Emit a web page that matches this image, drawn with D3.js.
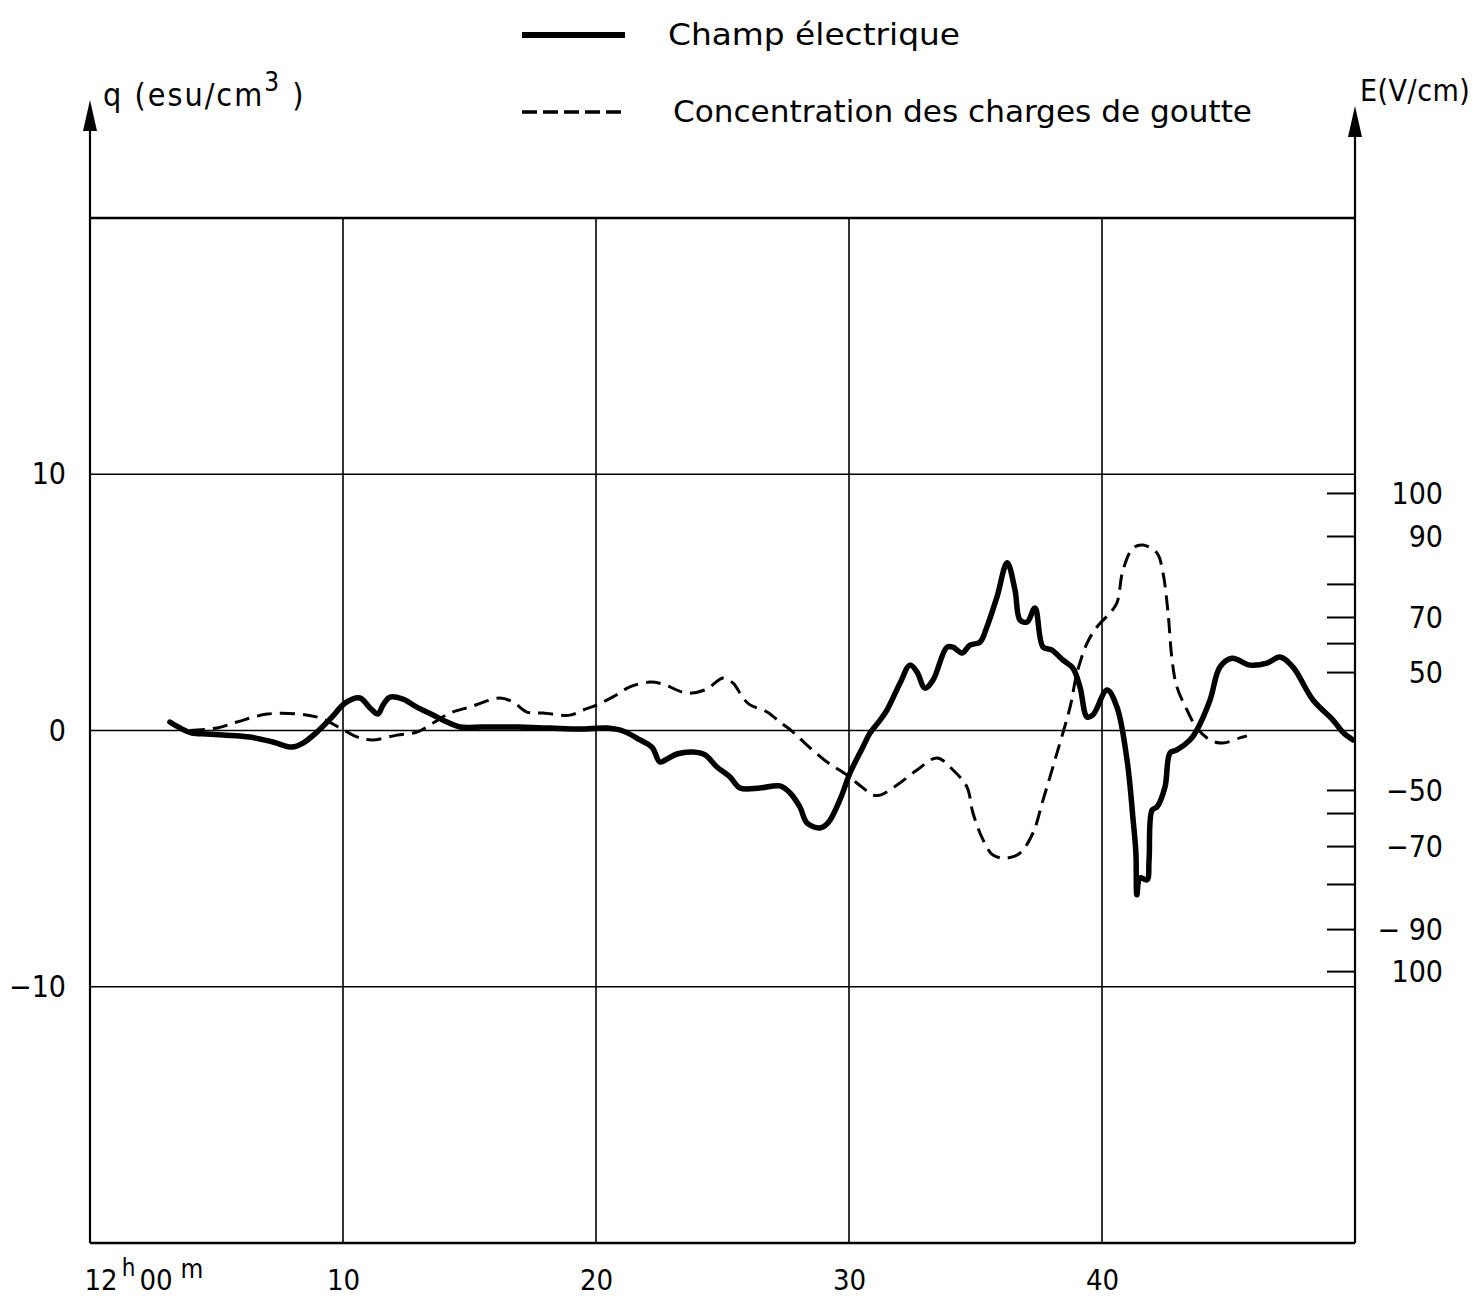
<!DOCTYPE html>
<html><head><meta charset="utf-8">
<script src="https://cdn.jsdelivr.net/npm/d3@7"></script>
<style>
body{margin:0;background:#fff;overflow:hidden}
svg{display:block;background:#fff}
text{font-family:"DejaVu Sans Condensed","DejaVu Sans",sans-serif;font-stretch:condensed;fill:#000}
</style>
</head><body>
<svg id="chart" width="1472" height="1298"></svg>
<script>
// ---- data ----
// Champ électrique, E in V/cm, versus minutes after 12h00
const fieldTime = [3.16,3.56,4.03,4.62,5.26,6.32,7.23,7.98,8.42,8.97,9.57,10.08,10.67,11.07,11.38,11.58,11.86,12.37,12.92,13.56,14.11,14.62,15.53,16.88,18.18,19.37,20.43,21.07,21.74,22.21,22.53,22.81,23.20,23.83,24.31,24.78,25.30,25.69,26.48,27.27,27.67,28.06,28.34,28.85,29.17,29.64,30.04,30.55,30.83,31.23,31.50,32.02,32.41,32.69,33.00,33.32,33.87,34.11,34.47,34.78,35.18,35.45,35.85,36.25,36.56,36.76,37.04,37.35,37.67,38.02,38.46,38.85,39.13,39.41,39.64,40.20,40.59,40.99,41.23,41.34,41.38,41.50,41.78,41.86,41.98,42.17,42.49,42.69,42.96,43.48,43.75,44.27,44.66,45.14,45.85,46.52,47.04,47.55,48.34,49.13,49.53,49.92];
const fieldValues = [7.6,2.5,-1.7,-2.5,-3.4,-5.1,-9.3,-13.6,-10.2,-0.9,11.9,23.7,28.0,19.5,14.4,22.0,28.8,27.1,20.3,13.6,7.6,3.4,3.4,3.4,2.5,1.7,2.5,0,-7.6,-13.6,-26.3,-23.7,-19.5,-17.8,-20.3,-30.5,-39.0,-48.3,-48.3,-46.6,-51.3,-57.4,-63.0,-64.5,-63.0,-54.3,-35.6,-13.6,-1.7,9.3,17.8,40.7,52.4,50.0,36.4,43.2,58.6,58.6,56.6,59.3,60.4,66.2,76.1,84.4,78.2,68.8,68.1,72.7,58.6,57.6,54.1,51.4,37.3,11.9,13.6,34.7,20.3,-24.6,-62.1,-71.8,-82.4,-78.4,-78.9,-73.7,-58.7,-57.4,-47.5,-18.6,-16.1,-7.6,0.8,26.3,51.7,54.8,52.4,53.1,55.2,51.7,26.3,9.3,-1.3,-7.6];

// Concentration des charges de goutte, q in esu/cm3
const chargeTime = [3.95,5.02,5.81,7.00,8.30,9.09,9.88,10.55,11.15,12.13,12.92,13.56,14.23,15.02,16.21,16.72,17.27,17.91,18.97,19.49,20.04,20.67,21.34,22.13,22.65,23.60,24.39,24.70,25.02,25.42,25.81,26.09,26.76,27.27,27.79,28.34,29.13,29.92,30.55,30.95,31.23,31.90,32.69,33.48,34.11,34.66,34.90,35.30,35.69,36.25,36.76,37.27,37.67,38.22,38.74,39.01,39.41,39.80,40.32,40.59,40.83,41.23,41.62,42.17,42.41,42.61,42.77,42.96,43.36,43.75,44.27,44.78,45.45,45.73];
const chargeValues = [0.0,0.10,0.33,0.64,0.64,0.49,0.10,-0.25,-0.37,-0.18,-0.06,0.29,0.68,0.92,1.27,1.11,0.72,0.68,0.60,0.80,1.00,1.31,1.70,1.89,1.81,1.46,1.62,1.85,2.05,1.85,1.27,1.00,0.72,0.33,-0.06,-0.57,-1.23,-1.74,-2.24,-2.52,-2.52,-2.13,-1.54,-1.07,-1.54,-2.20,-3.22,-4.27,-4.86,-4.98,-4.78,-4.00,-2.71,-0.88,0.92,2.24,3.41,4.04,4.59,4.98,6.26,7.12,7.24,6.93,6.15,4.59,2.75,1.70,0.80,0.10,-0.37,-0.49,-0.29,-0.21];

// axes
const qGrid = [20,10,0,-10,-20];
const qLabelValues = [10,0,-10];
const qLabels = ["10","0","\u221210"];
const timeGrid = [10,20,30,40];
const timeLabelValues = [0,10,20,30,40];
const timeLabels = ["12h00m","10","20","30","40"];
// right (non-linear) E axis: tick values and where each sits on the q scale
const eTicks  = [-100,-90,-80,-70,-60,-50,50,60,70,80,90,100];
const eTickQ  = [-9.39,-7.75,-5.99,-4.51,-3.22,-2.32,2.28,3.41,4.43,5.72,7.59,9.27];
const eLabelValues = [100,90,70,50,-50,-70,-90,-100];
const eLabels = ["100","90","70","50","\u221250","\u221270","\u2212 90","100"];

// ---- drawing ----
const svg = d3.select("#chart");
const L = 90, R = 1355, T = 218, B = 1243;
const x = d3.scaleLinear().domain([0,50]).range([L,R]);
const y = d3.scaleLinear().domain([-20,20]).range([B,T]);
const yE = d3.scaleLinear().domain(eTicks).range(eTickQ.map(q => y(q)));

// grid
svg.append("g").selectAll("line").data(qGrid).join("line")
  .attr("x1",L).attr("x2",R).attr("y1",d=>y(d)).attr("y2",d=>y(d))
  .attr("stroke","#000").attr("stroke-width",d=> (d===20||d===-20)?2.4:1.7);
svg.append("g").selectAll("line").data(timeGrid).join("line")
  .attr("x1",d=>x(d)).attr("x2",d=>x(d)).attr("y1",T).attr("y2",B)
  .attr("stroke","#000").attr("stroke-width",1.6);

// vertical axes with arrows
svg.append("line").attr("x1",L).attr("x2",L).attr("y1",112).attr("y2",B).attr("stroke","#000").attr("stroke-width",2.2);
svg.append("path").attr("d",`M${L},100 L${L-7},131 L${L+7},131 Z`).attr("fill","#000");
svg.append("line").attr("x1",R).attr("x2",R).attr("y1",118).attr("y2",B).attr("stroke","#000").attr("stroke-width",2.2);
svg.append("path").attr("d",`M${R},106 L${R-7},137 L${R+7},137 Z`).attr("fill","#000");

// left axis labels
const gl = svg.append("g").attr("transform",`translate(${L},0)`)
  .call(d3.axisLeft(y).tickValues(qLabelValues).tickSize(0).tickPadding(24)
        .tickFormat((d,i)=>qLabels[i]));
gl.select(".domain").remove();
gl.selectAll("text").style("font-size","30px").style("font-family",null);

// right E axis
const gr = svg.append("g").attr("transform",`translate(${R},0)`)
  .call(d3.axisRight(yE).tickValues(eTicks).tickSize(-28).tickFormat(""));
gr.select(".domain").remove();
gr.selectAll(".tick line").attr("stroke","#000").attr("stroke-width",2);
svg.append("g").selectAll("text").data(eLabelValues).join("text")
  .attr("x",R+88).attr("y",d=>yE(d)).attr("dy","0.36em")
  .attr("text-anchor","end").style("font-size","30px")
  .text((d,i)=>eLabels[i]);

// bottom labels
const gb = svg.append("g").attr("transform",`translate(0,${B})`)
  .call(d3.axisBottom(x).tickValues(timeLabelValues).tickSize(0).tickPadding(26)
        .tickFormat((d,i)=>timeLabels[i]));
gb.select(".domain").remove();
gb.selectAll("text").style("font-size","29px").style("font-family",null);
gb.selectAll(".tick").filter(d=>d===0).select("text").each(function(){
  const t = d3.select(this).text("").attr("text-anchor","start").attr("x",-6);
  t.append("tspan").text("12");
  t.append("tspan").attr("dx",4).attr("dy",-14).style("font-size","24px").text("h");
  t.append("tspan").attr("dx",4).attr("dy",14).text("00");
  t.append("tspan").attr("dx",8).attr("dy",-12).style("font-size","26px").text("m");
});

// curves
const lineE = d3.line().x((d,i)=>x(fieldTime[i])).y(d=>yE(d)).curve(d3.curveCatmullRom.alpha(0.5));
const lineQ = d3.line().x((d,i)=>x(chargeTime[i])).y(d=>y(d)).curve(d3.curveCatmullRom.alpha(0.5));
svg.append("path").datum(chargeValues).attr("d",lineQ)
  .attr("fill","none").attr("stroke","#000").attr("stroke-width",3)
  .attr("stroke-dasharray","15,8");
svg.append("path").datum(fieldValues).attr("d",lineE)
  .attr("fill","none").attr("stroke","#000").attr("stroke-width",5.5)
  .attr("stroke-linejoin","round").attr("stroke-linecap","round");

// axis titles
const tq = svg.append("text").attr("x",103).attr("y",106).style("font-size","32px").style("letter-spacing","2px");
tq.append("tspan").text("q (esu/cm");
tq.append("tspan").attr("dy",-15).style("font-size","26px").text("3");
tq.append("tspan").attr("dy",15).text(" )");
svg.append("text").attr("x",1360).attr("y",101).style("font-size","30px").style("letter-spacing","0.5px").text("E(V/cm)");

// legend
svg.append("line").attr("x1",522).attr("x2",625).attr("y1",35).attr("y2",35)
  .attr("stroke","#000").attr("stroke-width",6);
svg.append("text").attr("x",668).attr("y",45).style("font-size","31px")
  .attr("textLength",292).attr("lengthAdjust","spacingAndGlyphs").text("Champ électrique");
svg.append("line").attr("x1",522).attr("x2",625).attr("y1",112).attr("y2",112)
  .attr("stroke","#000").attr("stroke-width",3.5).attr("stroke-dasharray","15,6");
svg.append("text").attr("x",673).attr("y",122).style("font-size","31px")
  .attr("textLength",579).attr("lengthAdjust","spacingAndGlyphs").text("Concentration des charges de goutte");
</script>
</body></html>
